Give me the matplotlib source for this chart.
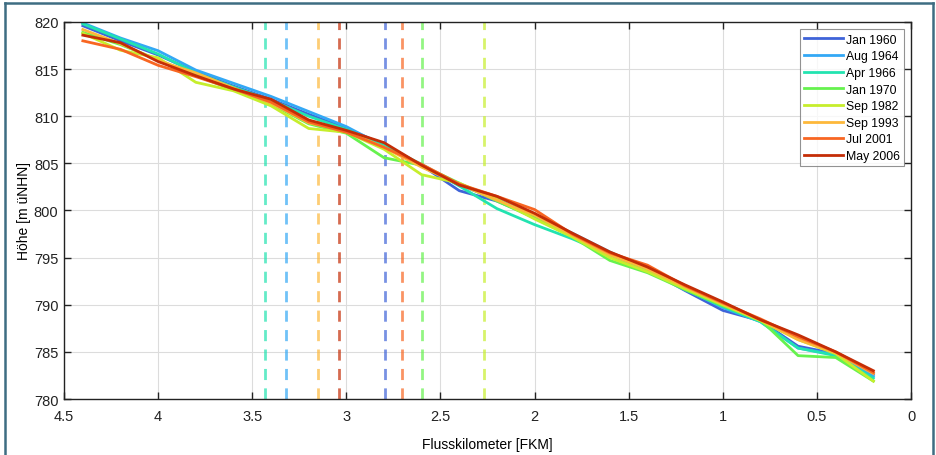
import numpy as np
import matplotlib
matplotlib.use("Agg")
import matplotlib.pyplot as plt
from matplotlib.lines import Line2D

plt.rcParams['font.family'] = ['Liberation Sans', 'DejaVu Sans']

# river kilometre of the cross sections
km = [4.4, 4.2, 4.0, 3.8, 3.6, 3.4, 3.2, 3.0, 2.8, 2.6, 2.4,
      2.2, 2.0, 1.8, 1.6, 1.4, 1.2, 1.0, 0.8, 0.6, 0.4, 0.2]

labels = ['Jan 1960', 'Aug 1964', 'Apr 1966', 'Jan 1970',
          'Sep 1982', 'Sep 1993', 'Jul 2001', 'May 2006']

# water level per survey [m uNHN]
jan1960 = [819.6, 818.0, 816.5, 814.7, 813.2, 811.8, 810.2, 808.7, 807.0, 804.8, 802.1,
           801.0, 799.3, 797.4, 795.4, 793.7, 791.5, 789.4, 788.3, 785.6, 784.8, 782.6]
aug1964 = [819.9, 818.3, 816.95, 814.9, 813.5, 812.1, 810.5, 808.9, 806.8, 804.7, 802.7,
           801.2, 799.4, 797.6, 795.6, 793.8, 791.7, 789.7, 788.2, 785.4, 784.7, 782.4]
apr1966 = [819.8, 818.2, 816.6, 814.6, 813.1, 811.7, 810.0, 808.6, 806.9, 804.9, 802.6,
           800.2, 798.5, 797.0, 795.3, 793.6, 791.6, 789.8, 788.2, 785.4, 784.6, 782.2]
jan1970 = [818.9, 817.6, 816.0, 814.3, 812.8, 811.3, 809.2, 808.2, 805.6, 804.8, 802.9,
           801.0, 799.2, 797.2, 794.7, 793.4, 791.6, 789.9, 788.4, 784.6, 784.4, 781.9]
sep1982 = [818.8, 817.0, 816.2, 813.6, 812.7, 811.1, 808.7, 808.3, 806.5, 803.8, 802.9,
           801.2, 799.1, 797.2, 795.0, 793.5, 791.7, 790.0, 788.3, 786.3, 784.8, 781.9]
sep1993 = [819.2, 817.7, 815.9, 814.6, 813.0, 811.4, 809.3, 808.4, 806.7, 804.6, 802.8,
           801.1, 799.5, 797.4, 795.3, 793.8, 791.9, 790.1, 788.4, 786.3, 784.9, 782.7]
jul2001 = [818.0, 817.1, 815.4, 814.2, 812.9, 811.5, 809.4, 808.3, 806.7, 804.9, 802.8,
           801.5, 800.1, 797.5, 795.5, 794.2, 792.0, 790.2, 788.5, 786.6, 785.0, 782.8]
may2006 = [818.6, 817.8, 815.8, 814.3, 812.9, 811.8, 809.6, 808.5, 807.2, 804.8, 802.7,
           801.5, 799.7, 797.6, 795.6, 794.0, 792.1, 790.3, 788.4, 786.8, 785.0, 783.0]

# position of the knickpoint for each survey [FKM]
knick = [2.795, 3.32, 3.43, 2.60, 2.27, 3.15, 2.705, 3.04]

series = [jan1960, aug1964, apr1966, jan1970, sep1982, sep1993, jul2001, may2006]
colors = ['#3f63d8', '#33a8f5', '#22e3b0', '#66f24e',
          '#c6ee2c', '#fdb83a', '#f86622', '#c42d06']

fig = plt.figure(figsize=(9.36, 4.56), dpi=100)
ax = fig.add_axes([0.0684, 0.1228, 0.9049, 0.8268])

for x, c in zip(knick, colors):
    ax.axvline(x, color=c, lw=2, ls=(0, (4, 3)), alpha=0.7, zorder=1)

for y, c, lab in zip(series, colors, labels):
    ax.plot(km, y, color=c, lw=2, label=lab, zorder=2)

ax.set_xlim(4.5, 0)
ax.set_ylim(780, 820)
ax.set_xticks([4.5, 4, 3.5, 3, 2.5, 2, 1.5, 1, 0.5, 0])
ax.set_xticklabels(['4.5', '4', '3.5', '3', '2.5', '2', '1.5', '1', '0.5', '0'])
ax.set_yticks(np.arange(780, 821, 5))
ax.grid(True, color='#dcdcdc', lw=0.8)
ax.set_axisbelow(True)
ax.tick_params(direction='in', top=True, right=True, length=5, width=1,
               labelsize=10.5, colors='#222222')
ax.tick_params(axis='x', pad=7)
ax.tick_params(axis='y', pad=4)
for s in ax.spines.values():
    s.set_linewidth(1)
    s.set_color('#222222')

ax.set_xlabel('Flusskilometer [FKM]', fontsize=10, labelpad=10)
ax.set_ylabel('Höhe [m üNHN]', fontsize=10, labelpad=2)

leg = ax.legend(loc='upper right', fontsize=8.8, frameon=True, fancybox=False,
                edgecolor='#777777', handlelength=3.2, handletextpad=0.2,
                labelspacing=0.38, borderpad=0.35, borderaxespad=0.6)
leg.get_frame().set_linewidth(0.8)

# outer frame of the picture
fc = '#3e6d82'
for xs, ys in [([5 / 936, 5 / 936], [0, 1 - 4 / 456]),
               ([5 / 936, 933 / 936], [1 - 4 / 456, 1 - 4 / 456]),
               ([933 / 936, 933 / 936], [0, 1 - 4 / 456])]:
    fig.add_artist(Line2D(xs, ys, transform=fig.transFigure, color=fc, lw=1.8))

fig.savefig('out.png', dpi=100)
